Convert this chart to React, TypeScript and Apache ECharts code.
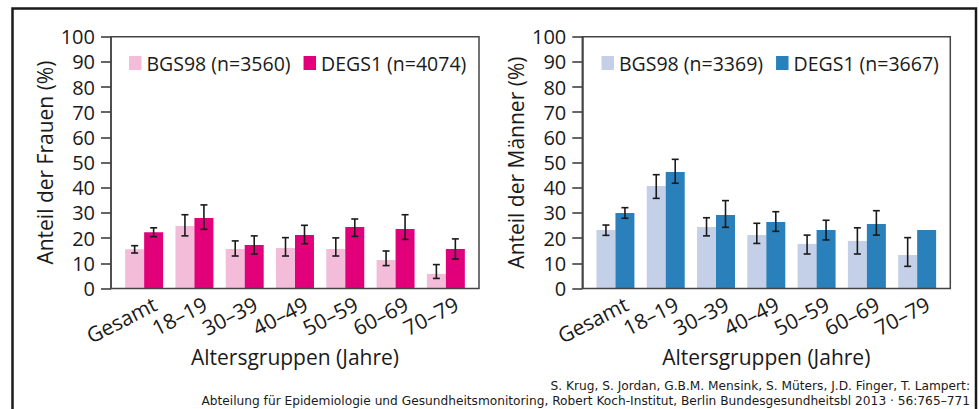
import React, { useEffect, useRef } from "react";
import * as echarts from "echarts";

const categories = ["Gesamt", "18–19", "30–39", "40–49", "50–59", "60–69", "70–79"];
const yTicks = [0, 10, 20, 30, 40, 50, 60, 70, 80, 90, 100];

const womenBgsName = "BGS98 (n=3560)";
const womenDegsName = "DEGS1 (n=4074)";
const menBgsName = "BGS98 (n=3369)";
const menDegsName = "DEGS1 (n=3667)";

const womenBgs = [15.6, 24.8, 15.7, 16.1, 15.7, 11.3, 5.8];
const womenBgsLo = [14.1, 20.9, 12.9, 12.9, 12.9, 9.1, 4.0];
const womenBgsHi = [17.0, 29.3, 18.9, 20.2, 20.1, 14.9, 9.5];

const womenDegs = [22.3, 28.0, 17.3, 21.2, 24.4, 23.6, 15.7];
const womenDegsLo = [20.6, 23.5, 13.7, 17.8, 20.7, 19.5, 11.7];
const womenDegsHi = [24.1, 33.2, 20.9, 25.1, 27.6, 29.3, 19.7];

const menBgs = [23.2, 40.7, 24.4, 21.2, 17.7, 18.9, 13.3];
const menBgsLo = [21.1, 35.8, 20.9, 17.9, 13.7, 13.7, 8.8];
const menBgsHi = [25.2, 45.2, 28.1, 25.9, 21.2, 24.1, 20.2];

const menDegs = [30.0, 46.3, 29.2, 26.4, 23.2, 25.6, 23.2];
const menDegsLo = [27.9, 41.8, 24.3, 22.7, 19.3, 21.2, null];
const menDegsHi = [32.1, 51.3, 34.9, 30.5, 27.1, 30.9, null];

const yNameWomen = "Anteil der Frauen (%)";
const yNameMen = "Anteil der Männer (%)";
const xName = "Altersgruppen (Jahre)";
const citation1 = "S. Krug, S. Jordan, G.B.M. Mensink, S. Müters, J.D. Finger, T. Lampert:";
const citation2 =
  "Abteilung für Epidemiologie und Gesundheitsmonitoring, Robert Koch-Institut, Berlin Bundesgesundheitsbl 2013 · 56:765–771";

const FONT = "'Open Sans', 'DejaVu Sans', sans-serif";
const CITE_FONT = "'DejaVu Sans', 'Open Sans', sans-serif";
const TXT = "#1a1a1a";
const GAP = 0.245;

const PLOT_TOP = 36.7;
const PLOT_H = 251.8;
const BOX_L = [111, 582.3];
const BOX_W = 368;
const INSET = 8;
const LABEL_SHIFT = 11;

function errData(lo: (number | null)[], hi: (number | null)[]) {
  return lo.map((l, i) => (l == null || hi[i] == null ? [i, "-", "-"] : [i, l, hi[i]]));
}

function errSeries(name: string, gridIdx: number, lo: (number | null)[], hi: (number | null)[], side: number) {
  return {
    type: "custom",
    name,
    xAxisIndex: gridIdx,
    yAxisIndex: gridIdx,
    z: 5,
    encode: { x: 0, y: [1, 2] },
    data: errData(lo, hi),
    renderItem: (params: any, api: any) => {
      const lv = api.value(1);
      const hv = api.value(2);
      if (typeof lv !== "number" || typeof hv !== "number" || isNaN(lv) || isNaN(hv)) return null;
      const cat = api.value(0);
      const pHi = api.coord([cat, hv]);
      const pLo = api.coord([cat, lv]);
      const band = api.size([1, 0])[0];
      const bw = (band * (1 - GAP)) / 2;
      const x = pHi[0] + (side * bw) / 2;
      const cap = 3.5;
      const style = { stroke: "#1a1a1a", lineWidth: 1.6 };
      return {
        type: "group",
        children: [
          { type: "line", shape: { x1: x, y1: pHi[1], x2: x, y2: pLo[1] }, style },
          { type: "line", shape: { x1: x - cap, y1: pHi[1], x2: x + cap, y2: pHi[1] }, style },
          { type: "line", shape: { x1: x - cap, y1: pLo[1], x2: x + cap, y2: pLo[1] }, style },
        ],
      };
    },
  };
}

function barSeries(name: string, gridIdx: number, data: number[], color: string) {
  return {
    type: "bar",
    name,
    xAxisIndex: gridIdx,
    yAxisIndex: gridIdx,
    data,
    itemStyle: { color },
    barGap: "0%",
    barCategoryGap: GAP * 100 + "%",
  };
}

export default function App() {
  const ref = useRef<HTMLDivElement>(null);
  useEffect(() => {
    if (!ref.current) return;
    const chart = echarts.init(ref.current, null, { renderer: "svg" });

    const grids: any[] = [];
    const xAxes: any[] = [];
    const yAxes: any[] = [];
    [0, 1].forEach((k) => {
      grids.push({ left: BOX_L[k] + INSET, top: PLOT_TOP, width: BOX_W - 2 * INSET, height: PLOT_H });
    });
    [0, 1].forEach((k) => {
      grids.push({
        left: BOX_L[k] + INSET + LABEL_SHIFT,
        top: PLOT_TOP,
        width: BOX_W - 2 * INSET,
        height: PLOT_H,
      });
    });
    [0, 1].forEach((k) => {
      xAxes.push({
        type: "category",
        gridIndex: k,
        data: categories,
        axisLine: { show: false },
        axisTick: { show: false },
        axisLabel: { show: false },
        name: xName,
        nameLocation: "middle",
        nameGap: 58,
        nameTextStyle: { fontFamily: FONT, fontSize: 21, color: TXT },
      });
      yAxes.push({
        type: "value",
        gridIndex: k,
        min: 0,
        max: 100,
        interval: 10,
        offset: INSET,
        splitLine: { show: false },
        axisLine: { show: true, lineStyle: { color: "#444", width: 1.5 } },
        axisTick: { show: true, length: 10, lineStyle: { color: "#333", width: 1.5 } },
        axisLabel: {
          margin: 16,
          fontFamily: FONT,
          fontSize: 20,
          color: TXT,
          formatter: (v: number) => (yTicks.includes(v) ? String(v) : ""),
        },
        name: k === 0 ? yNameWomen : yNameMen,
        nameLocation: "middle",
        nameGap: 56,
        nameTextStyle: { fontFamily: FONT, fontSize: 21, color: TXT },
      });
    });
    [2, 3].forEach((k) => {
      xAxes.push({
        type: "category",
        gridIndex: k,
        data: categories,
        axisLine: { show: false },
        axisTick: { show: false },
        axisLabel: {
          rotate: 27,
          margin: 14,
          interval: 0,
          fontFamily: FONT,
          fontSize: 21,
          color: TXT,
        },
      });
      yAxes.push({ type: "value", gridIndex: k, show: false, min: 0, max: 100 });
    });

    const boxes = [0, 1].map((k) => ({
      type: "rect",
      shape: { x: BOX_L[k], y: PLOT_TOP, width: BOX_W, height: PLOT_H },
      style: { fill: "none", stroke: "#444", lineWidth: 1.5 },
      z: 10,
    }));

    const legendCommon = {
      top: 48,
      itemWidth: 12.5,
      itemHeight: 14,
      itemGap: 13,
      icon: "rect",
      textStyle: { fontFamily: FONT, fontSize: 19.5, color: TXT },
    };

    chart.setOption({
      animation: false,
      backgroundColor: "#fff",
      grid: grids,
      xAxis: xAxes,
      yAxis: yAxes,
      legend: [
        { ...legendCommon, data: [womenBgsName, womenDegsName], left: 124 },
        { ...legendCommon, data: [menBgsName, menDegsName], left: 596.5 },
      ],
      series: [
        barSeries(womenBgsName, 0, womenBgs, "#F3BCD9"),
        barSeries(womenDegsName, 0, womenDegs, "#E2007A"),
        barSeries(menBgsName, 1, menBgs, "#C3D0E7"),
        barSeries(menDegsName, 1, menDegs, "#2A80BA"),
        errSeries("errWB", 0, womenBgsLo, womenBgsHi, -1),
        errSeries("errWD", 0, womenDegsLo, womenDegsHi, 1),
        errSeries("errMB", 1, menBgsLo, menBgsHi, -1),
        errSeries("errMD", 1, menDegsLo, menDegsHi, 1),
      ],
      graphic: [
        {
          type: "rect",
          shape: { x: 12.5, y: 8.5, width: 963.5, height: 430 },
          style: { fill: "none", stroke: "#1a1a1a", lineWidth: 2.5 },
          z: 10,
        },
        ...boxes,
        {
          type: "text",
          x: 970,
          y: 385.6,
          style: {
            text: citation1,
            fontFamily: CITE_FONT,
            fontSize: 12.2,
            fill: TXT,
            textAlign: "right",
            textVerticalAlign: "middle",
          },
        },
        {
          type: "text",
          x: 970,
          y: 401.2,
          style: {
            text: citation2,
            fontFamily: CITE_FONT,
            fontSize: 12.2,
            fill: TXT,
            textAlign: "right",
            textVerticalAlign: "middle",
          },
        },
      ],
    });
    return () => chart.dispose();
  }, []);
  return (
    <div
      ref={ref}
      style={{ position: "fixed", left: 0, top: 0, width: 979, height: 409, background: "#fff" }}
    />
  );
}
